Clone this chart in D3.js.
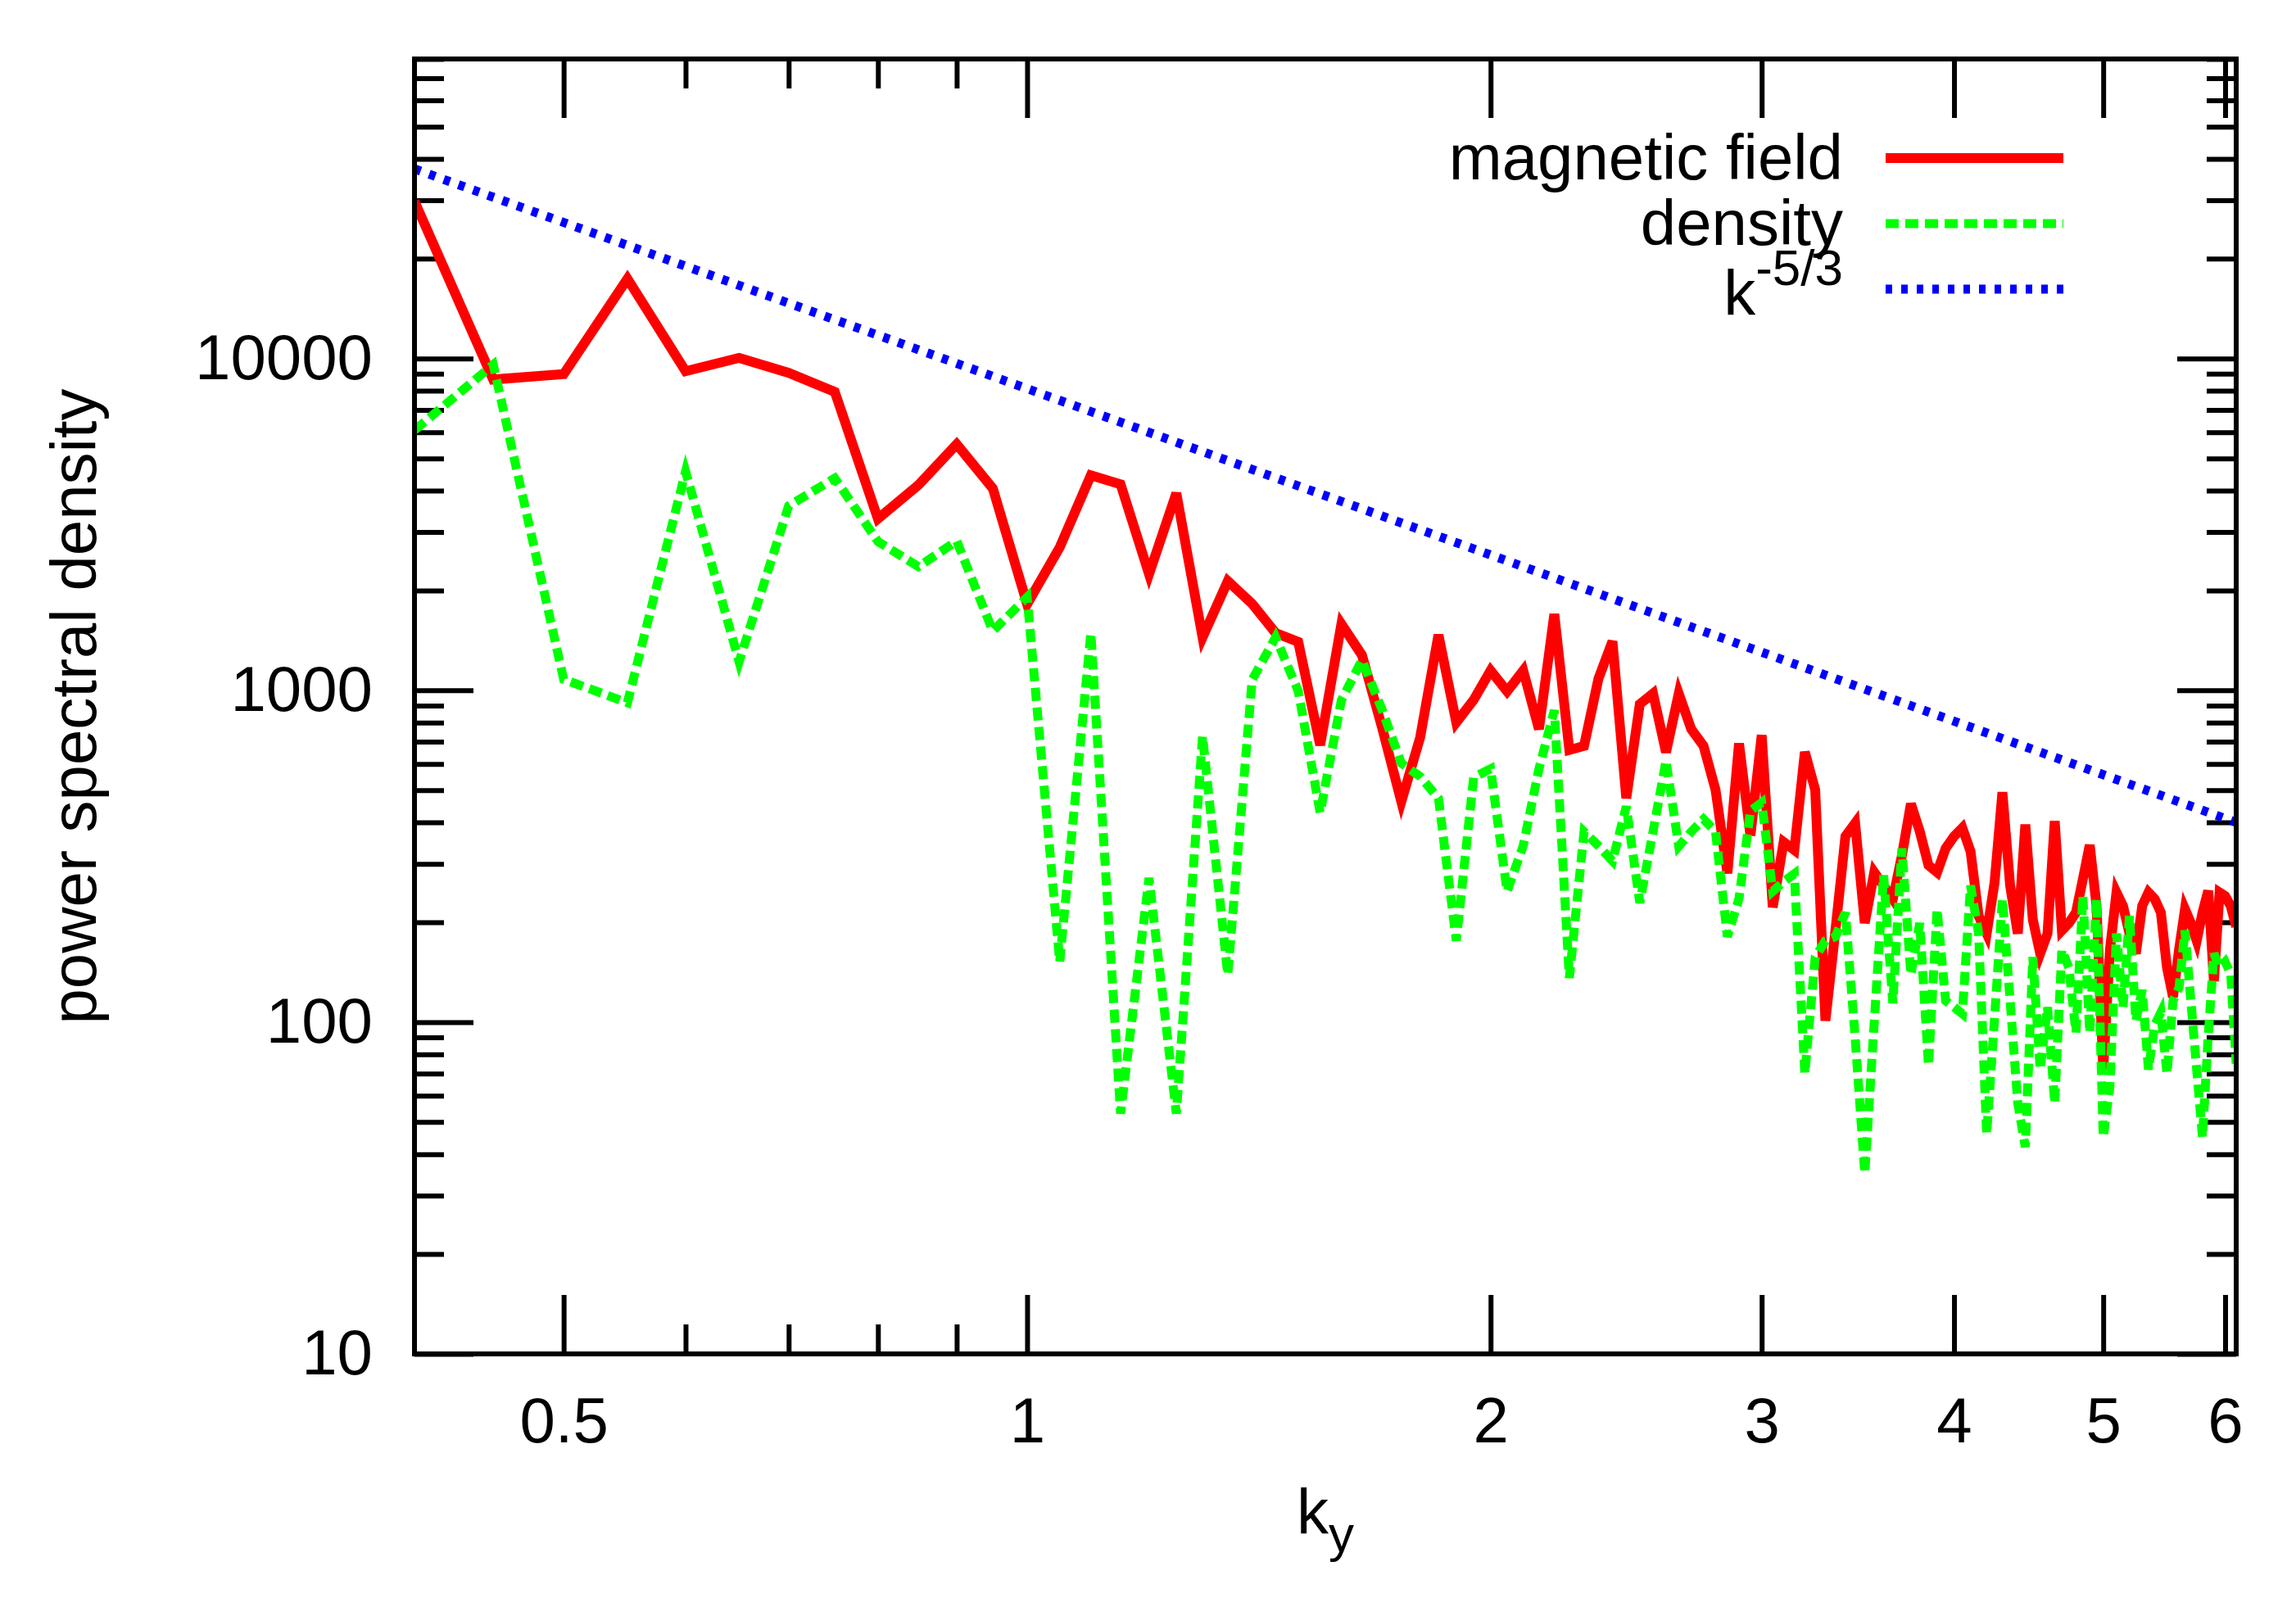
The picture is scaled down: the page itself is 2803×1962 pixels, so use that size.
<!DOCTYPE html>
<html>
<head>
<meta charset="utf-8">
<script src="https://cdn.jsdelivr.net/npm/d3@7"></script>
<style>
    body { margin: 0; background: #fff; }
    svg { display: block; font-family: 'Liberation Sans', Arial, Helvetica, sans-serif; }
</style>
</head>
<body>
<div id="chart"></div>
<script>
// wavenumbers k_y
const ky = [
    0.40, 0.45, 0.50, 0.55, 0.60, 0.65, 0.70, 0.75, 0.80, 0.85,
    0.90, 0.95, 1.00, 1.05, 1.10, 1.15, 1.20, 1.25, 1.30, 1.35,
    1.40, 1.45, 1.50, 1.55, 1.60, 1.65, 1.70, 1.75, 1.80, 1.85,
    1.90, 1.95, 2.00, 2.05, 2.10, 2.15, 2.20, 2.25, 2.30, 2.35,
    2.40, 2.45, 2.50, 2.55, 2.60, 2.65, 2.70, 2.75, 2.80, 2.85,
    2.90, 2.95, 3.00, 3.05, 3.10, 3.15, 3.20, 3.25, 3.30, 3.35,
    3.40, 3.45, 3.50, 3.55, 3.60, 3.65, 3.70, 3.75, 3.80, 3.85,
    3.90, 3.95, 4.00, 4.05, 4.10, 4.15, 4.20, 4.25, 4.30, 4.35,
    4.40, 4.45, 4.50, 4.55, 4.60, 4.65, 4.70, 4.75, 4.80, 4.85,
    4.90, 4.95, 5.00, 5.05, 5.10, 5.15, 5.20, 5.25, 5.30, 5.35,
    5.40, 5.45, 5.50, 5.55, 5.60, 5.65, 5.70, 5.75, 5.80, 5.85,
    5.90, 5.95, 6.00, 6.05, 6.10
]

const magneticField = [
    29800, 8650, 8980, 17400, 9160, 10050, 9060, 7940, 3290, 4160,
    5520, 4060, 1820, 2700, 4450, 4180, 2240, 3930, 1445, 2135,
    1825, 1490, 1400, 684, 1585, 1277, 775, 462, 721, 1470,
    800, 936, 1147, 993, 1147, 764, 1698, 661, 680, 1084,
    1406, 473, 909, 978, 651, 978, 764, 680, 501, 281,
    692, 365, 733, 222, 349, 330, 652, 501, 101, 190,
    363, 398, 199, 283, 258, 235, 318, 455, 376, 297,
    283, 334, 363, 385, 327, 209, 185, 264, 493, 258,
    185, 394, 204, 161, 185, 404, 189, 199, 214, 270,
    342, 224, 72, 165, 246, 224, 185, 161, 224, 246,
    235, 214, 146, 119, 165, 219, 199, 176, 214, 249,
    133, 246, 240, 224, 194
]

const density = [
    6080, 9590, 1080, 918, 4570, 1220, 3600, 4360, 2810, 2360,
    2820, 1510, 1910, 152, 1490, 53, 272, 53, 728, 139,
    1075, 1445, 995, 428, 934, 1235, 877, 603, 550, 473,
    176, 547, 580, 248, 340, 580, 871, 136, 375, 340,
    306, 447, 229, 375, 614, 339, 375, 409, 375, 181,
    236, 433, 459, 248, 265, 280, 70, 157, 176, 181,
    214, 90, 35, 100, 277, 114, 334, 139, 199, 74,
    219, 116, 111, 106, 258, 185, 46, 103, 235, 116,
    57, 42, 157, 72, 111, 57, 165, 146, 93, 240,
    93, 235, 45, 64, 185, 111, 209, 101, 125, 72,
    98, 107, 70, 116, 127, 189, 116, 72, 45, 91,
    161, 146, 152, 140, 75
]

// k^-5/3 reference: a straight line in log-log, given by its end points
const slopeK = [0.4, 6.1]
const slopePsd = [37300, 400]

const xMajorTicks = [0.5, 1, 2, 3, 4, 5, 6]
const xMinorTicks = [0.6, 0.7, 0.8, 0.9]
const yMajorTicks = [10, 100, 1000, 10000]
const yMinorTicks = [
    20, 30, 40, 50, 60, 70, 80, 90,
    200, 300, 400, 500, 600, 700, 800, 900,
    2000, 3000, 4000, 5000, 6000, 7000, 8000, 9000,
    20000, 30000, 40000, 50000, 60000, 70000, 80000
]

const series = [
    { label: 'magnetic field', color: '#ff0000', width: 12, dash: null, k: ky, v: magneticField },
    { label: 'density', color: '#00ff00', width: 11, dash: '16 8', k: ky, v: density },
    { label: 'k', sup: '-5/3', color: '#0000ff', width: 11, dash: '8 11', k: slopeK, v: slopePsd }
]

const width = 2803, height = 1962
const margin = ({ top: 72, right: 73, bottom: 309, left: 506 })
const fontSize = 78

const svg = d3.select('#chart')
    .append('svg')
    .attr('width', width)
    .attr('height', height)

svg.append('rect')
    .attr('width', width)
    .attr('height', height)
    .attr('fill', '#fff')

const x = d3.scaleLog()
    .domain([0.4, 6.1])
    .range([margin.left, width - margin.right])
const y = d3.scaleLog()
    .domain([10, 80000])
    .range([height - margin.bottom, margin.top])

const tidy = g => {
    g.attr('font-size', fontSize).attr('font-family', null)
    g.select('.domain').remove()
    g.selectAll('line').attr('stroke', '#000').attr('stroke-width', 6)
    g.selectAll('text').attr('fill', '#000')
}

const plotBottom = height - margin.bottom, plotTop = margin.top
const plotLeft = margin.left, plotRight = width - margin.right

// bottom & top
svg.append('g')
    .attr('transform', `translate(0,${plotBottom})`)
    .call(d3.axisBottom(x).tickValues(xMajorTicks).tickFormat(d => String(d)).tickSize(-72).tickPadding(53))
    .call(tidy)
svg.append('g')
    .attr('transform', `translate(0,${plotBottom})`)
    .call(d3.axisBottom(x).tickValues(xMinorTicks).tickFormat('').tickSize(-36))
    .call(tidy)
svg.append('g')
    .attr('transform', `translate(0,${plotTop})`)
    .call(d3.axisTop(x).tickValues(xMajorTicks).tickFormat('').tickSize(-72))
    .call(tidy)
svg.append('g')
    .attr('transform', `translate(0,${plotTop})`)
    .call(d3.axisTop(x).tickValues(xMinorTicks).tickFormat('').tickSize(-36))
    .call(tidy)

// left & right
svg.append('g')
    .attr('transform', `translate(${plotLeft},0)`)
    .call(d3.axisLeft(y).tickValues(yMajorTicks).tickFormat(d => String(d)).tickSize(-72).tickPadding(51))
    .call(tidy)
svg.append('g')
    .attr('transform', `translate(${plotLeft},0)`)
    .call(d3.axisLeft(y).tickValues(yMinorTicks).tickFormat('').tickSize(-36))
    .call(tidy)
svg.append('g')
    .attr('transform', `translate(${plotRight},0)`)
    .call(d3.axisRight(y).tickValues(yMajorTicks).tickFormat('').tickSize(-72))
    .call(tidy)
svg.append('g')
    .attr('transform', `translate(${plotRight},0)`)
    .call(d3.axisRight(y).tickValues(yMinorTicks).tickFormat('').tickSize(-36))
    .call(tidy)

svg.append('clipPath')
    .attr('id', 'plot-clip')
    .append('rect')
    .attr('x', plotLeft)
    .attr('y', plotTop)
    .attr('width', plotRight - plotLeft)
    .attr('height', plotBottom - plotTop)

const line = d3.line()
    .x(d => x(d[0]))
    .y(d => y(d[1]))

const plot = svg.append('g').attr('clip-path', 'url(#plot-clip)')
series.forEach(s => {
    plot.append('path')
        .datum(s.k.map((k, i) => [k, s.v[i]]))
        .attr('fill', 'none')
        .attr('stroke', s.color)
        .attr('stroke-width', s.width)
        .attr('stroke-linejoin', 'miter')
        .attr('stroke-dasharray', s.dash)
        .attr('d', line)
})

svg.append('rect')
    .attr('x', plotLeft)
    .attr('y', plotTop)
    .attr('width', plotRight - plotLeft)
    .attr('height', plotBottom - plotTop)
    .attr('fill', 'none')
    .attr('stroke', '#000')
    .attr('stroke-width', 6)

// key
const key = svg.append('g').attr('font-size', fontSize)
series.forEach((s, i) => {
    const rowY = 193 + i * 80
    const t = key.append('text')
        .attr('x', 2250)
        .attr('y', s.sup ? rowY + 32 : rowY + 26)
        .attr('text-anchor', 'end')
        .text(s.label)
    if (s.sup) {
        t.append('tspan')
            .attr('dy', -37)
            .attr('font-size', 62)
            .text(s.sup)
    }
    key.append('line')
        .attr('x1', 2302)
        .attr('x2', 2519)
        .attr('y1', rowY)
        .attr('y2', rowY)
        .attr('stroke', s.color)
        .attr('stroke-width', s.width)
        .attr('stroke-dasharray', s.dash)
})

// axis titles
svg.append('text')
    .attr('transform', `translate(117,${(plotTop + plotBottom) / 2}) rotate(-90)`)
    .attr('text-anchor', 'middle')
    .attr('font-size', fontSize)
    .text('power spectral density')

const xTitle = svg.append('text')
    .attr('x', (plotLeft + plotRight) / 2)
    .attr('y', 1873)
    .attr('text-anchor', 'middle')
    .attr('font-size', fontSize)
    .text('k')
xTitle.append('tspan')
    .attr('dy', 21)
    .attr('font-size', 62)
    .text('y')
</script>
</body>
</html>
